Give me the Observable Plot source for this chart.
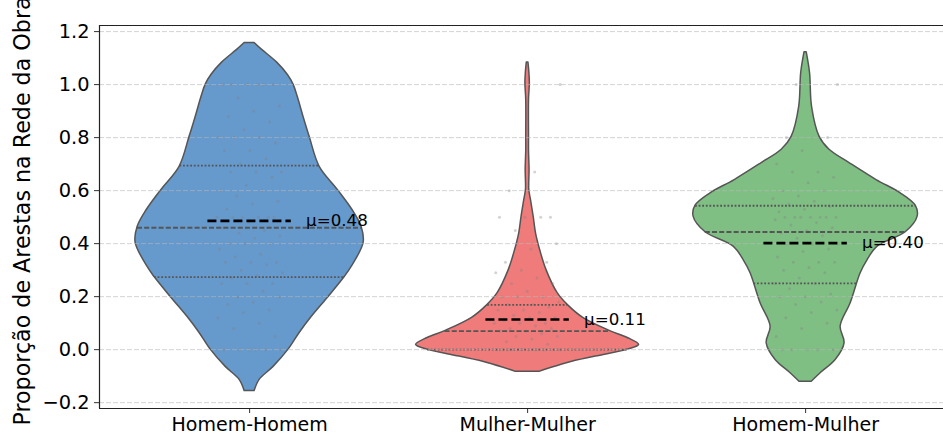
<!DOCTYPE html>
<html><head><meta charset="utf-8">
<script src="https://cdn.jsdelivr.net/npm/d3@7"></script>
<script src="https://cdn.jsdelivr.net/npm/@observablehq/plot@0.6"></script>
<style>body{margin:0;background:#fff}</style>
</head><body><div id="chart"></div>
<script>
const categories = ["Homem-Homem", "Mulher-Mulher", "Homem-Mulher"];
const colors = ["#6699cc", "#f07b7b", "#80bf84"];
const yTicks = [-0.2, 0, 0.2, 0.4, 0.6, 0.8, 1.0, 1.2];
const yLabel = "Proporção de Arestas na Rede da Obra";

const means = [0.486, 0.114, 0.402];
const meanLabels = ["μ=0.48", "μ=0.11", "μ=0.40"];
const q1 = [0.274, 0.0, 0.25];
const medians = [0.46, 0.07, 0.444];
const q3 = [0.694, 0.169, 0.543];

// violin density profiles: [value, half-width in category units]
const profileHH = [[-0.156,0.018],[-0.114,0.036],[-0.065,0.086],[0.0,0.14],[0.063,0.18],[0.123,0.223],[0.199,0.284],[0.274,0.342],[0.312,0.367],[0.403,0.41],[0.463,0.403],[0.527,0.37],[0.603,0.317],[0.690,0.252],[0.803,0.216],[0.878,0.194],[0.954,0.173],[1.0,0.158],[1.037,0.137],[1.082,0.10],[1.131,0.045],[1.157,0.018]];
const profileMM = [[-0.083,0.045],[-0.077,0.061],[-0.05,0.144],[-0.026,0.245],[0.0,0.36],[0.018,0.401],[0.044,0.36],[0.07,0.297],[0.12,0.2],[0.169,0.144],[0.213,0.108],[0.30,0.068],[0.376,0.045],[0.44,0.03],[0.5,0.022],[0.565,0.012],[0.603,0.006],[0.678,0.007],[0.75,0.005],[0.8,0.005],[0.942,0.005],[1.006,0.008],[1.05,0.006],[1.083,0.003]];
const profileHM = [[-0.121,0.022],[-0.089,0.054],[-0.039,0.108],[0.024,0.14],[0.087,0.126],[0.175,0.162],[0.288,0.198],[0.338,0.223],[0.389,0.259],[0.443,0.36],[0.502,0.403],[0.543,0.396],[0.59,0.342],[0.64,0.255],[0.704,0.158],[0.754,0.086],[0.804,0.05],[0.917,0.023],[1.043,0.016],[1.122,0.004]];

// individual observations (approximate, read from the strip points)
const pointsHH = [1,1,1,1,1,1,0.95,0.92,0.9,0.88,0.86,0.83,0.8,0.8,0.8,0.78,0.75,0.75,0.72,0.7,0.67,0.67,0.67,0.65,0.62,0.6,0.6,0.58,0.56,0.55,0.53,0.5,0.5,0.5,0.5,0.5,0.5,0.48,0.46,0.45,0.44,0.43,0.42,0.4,0.4,0.4,0.38,0.36,0.35,0.33,0.33,0.33,0.32,0.3,0.29,0.28,0.27,0.25,0.25,0.25,0.22,0.2,0.2,0.18,0.17,0.15,0.14,0.12,0.1,0.08,0.05,0,0,0,0,0,0];
const pointsMM = [1.0,0.67,0.6,0.5,0.5,0.5,0.5,0.45,0.4,0.38,0.33,0.33,0.3,0.29,0.27,0.25,0.25,0.22,0.2,0.2,0.2,0.18,0.17,0.17,0.16,0.15,0.15,0.14,0.13,0.12,0.12,0.11,0.1,0.1,0.1,0.09,0.08,0.08,0.07,0.07,0.06,0.05,0.05,0.04,0.03,0.02,0,0,0,0,0,0,0,0,0,0,0,0];
const pointsHM = [1,1,0.9,0.8,0.8,0.75,0.7,0.67,0.67,0.65,0.63,0.6,0.6,0.58,0.57,0.56,0.55,0.54,0.53,0.52,0.5,0.5,0.5,0.5,0.5,0.5,0.5,0.49,0.48,0.47,0.46,0.45,0.44,0.43,0.42,0.4,0.4,0.4,0.38,0.37,0.35,0.33,0.33,0.33,0.31,0.3,0.29,0.27,0.25,0.25,0.23,0.21,0.2,0.2,0.18,0.17,0.15,0.14,0.12,0.1,0.08,0.05,0,0,0,0,0];

const profiles = [profileHH, profileMM, profileHM];
const pointSets = [pointsHH, pointsMM, pointsHM];

const xDomain = [-0.54, 2.496];
const yDomain = [-0.222, 1.223];

function halfWidth(profile, v) {
  for (let k = 0; k < profile.length - 1; k++) {
    const [a, wa] = profile[k], [b, wb] = profile[k + 1];
    if (v >= a && v <= b) return wa + (wb - wa) * (v - a) / (b - a);
  }
  return 0;
}

const violinMarks = profiles.map((p, i) =>
  Plot.areaX(p, {
    y: d => d[0], x1: d => i - d[1], x2: d => i + d[1],
    fill: colors[i], stroke: "#555", strokeWidth: 1.5, curve: "catmull-rom"
  })
);

const quartDotted = [], quartDashed = [];
categories.forEach((c, i) => {
  [q1[i], q3[i]].forEach(v => { const w = halfWidth(profiles[i], v); quartDotted.push({y: v, x1: i - w, x2: i + w}); });
  const w = halfWidth(profiles[i], medians[i]);
  quartDashed.push({y: medians[i], x1: i - w, x2: i + w});
});

const pts = [];
pointSets.forEach((arr, i) => arr.forEach((v, j) => {
  const off = (((j + 1) * 0.6180339887 + i * 0.37) % 1 - 0.5) * 0.24;
  pts.push({x: i + off, y: v});
}));

const meanData = means.map((m, i) => ({i, m, label: meanLabels[i]}));

const chart = Plot.plot({
  width: 943, height: 437,
  marginLeft: 99, marginRight: 0, marginTop: 25, marginBottom: 29,
  style: {fontFamily: "DejaVu Sans", background: "white", color: "black"},
  x: {domain: xDomain, axis: null},
  y: {domain: yDomain, axis: null},
  marks: [
    ...violinMarks,
    Plot.dot(pts, {x: "x", y: "y", r: 1.5, fill: "#808080", fillOpacity: 0.35, stroke: "none"}),
    Plot.ruleY(quartDotted, {y: "y", x1: "x1", x2: "x2", stroke: "#555", strokeWidth: 1.8, strokeDasharray: "1.8,1.8"}),
    Plot.ruleY(quartDashed, {y: "y", x1: "x1", x2: "x2", stroke: "#555", strokeWidth: 1.8, strokeDasharray: "5,2.2"}),
    Plot.ruleY(yTicks, {stroke: "#b8b8b8", strokeOpacity: 0.6, strokeWidth: 1, strokeDasharray: "5,2"}),
    Plot.ruleY(meanData, {y: "m", x1: d => d.i - 0.15, x2: d => d.i + 0.15, stroke: "black", strokeWidth: 2.6, strokeDasharray: "9,4"}),
    Plot.text(meanData, {x: d => d.i + 0.203, y: "m", text: "label", textAnchor: "start", fontSize: 16.7, fill: "black"}),
    Plot.axisY({ticks: yTicks, tickFormat: d3.format(".1f"), tickSize: 5, tickPadding: 5, fontSize: 19.4, label: null, stroke: "#333"}),
    Plot.axisX({ticks: [0, 1, 2], tickFormat: i => categories[i], tickSize: 5, tickPadding: 4, fontSize: 19, label: null, stroke: "#333"}),
    Plot.ruleY([yDomain[0], yDomain[1]], {stroke: "#222", strokeWidth: 1.2}),
    Plot.ruleX([xDomain[0]], {stroke: "#222", strokeWidth: 1.2}),
    Plot.text([yLabel], {frameAnchor: "left", textAnchor: "middle", rotate: -90, dx: -77, dy: -6, fontSize: 22.2, fill: "black"})
  ]
});
document.getElementById("chart").appendChild(chart);
</script>
</body></html>
